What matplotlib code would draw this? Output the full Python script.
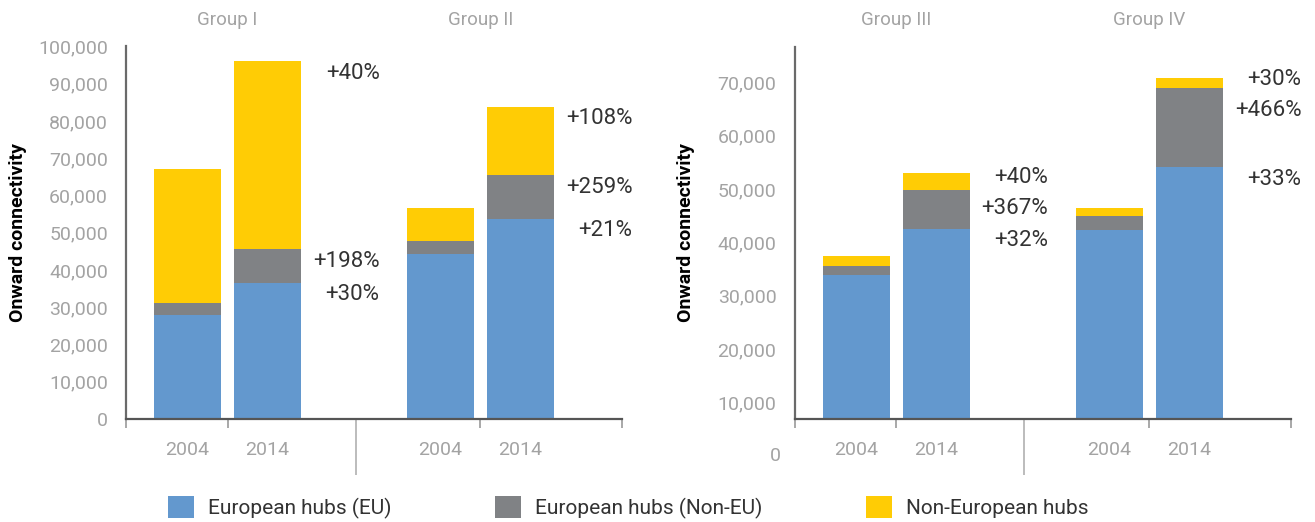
import matplotlib
matplotlib.use('Agg')
import matplotlib.pyplot as plt
from matplotlib.patches import Patch
from matplotlib.ticker import FuncFormatter

plt.rcParams['font.family'] = ['Roboto', 'DejaVu Sans']

# bars in order: Group I 2004, 2014, Group II 2004, 2014 | Group III 2004, 2014, Group IV 2004, 2014
groups = ["Group I", "Group II", "Group III", "Group IV"]
years = ["2004", "2014"]
eu_hubs = [27900, 36600, 44400, 53700, 33900, 42600, 42400, 54100]
non_eu_hubs = [3300, 9000, 3400, 11800, 1700, 7300, 2600, 14900]
non_european_hubs = [35900, 50500, 8800, 18300, 1900, 3200, 1500, 1900]

growth_non_european = ["+40%", "+108%", "+40%", "+30%"]
growth_non_eu = ["+198%", "+259%", "+367%", "+466%"]
growth_eu = ["+30%", "+21%", "+32%", "+33%"]

series_names = ["European hubs (EU)", "European hubs (Non-EU)", "Non-European hubs"]
colors = ["#6398ce", "#808285", "#ffcc05"]

TICK_GREY = "#a3a3a3"
DARK = "#333333"

fig = plt.figure(figsize=(13.15, 5.22), dpi=100)
W, H = 1315, 522
ax_left = fig.add_axes([126 / W, 103 / H, 496 / W, 372.5 / H])
ax_right = fig.add_axes([794.5 / W, 103 / H, 496.5 / W, 372.5 / H])

xpos = [0, 1, 3.16, 4.16]
bar_w = 0.84
sep = 2.1


def place_labels(ax, x, tops, texts):
    # put each label ~12px under its segment top, push apart when crowded
    ys = [ax.transData.transform((0, t))[1] - 12 for t in tops]
    gap = 31
    for _ in range(100):
        for i in range(1, len(ys)):
            d = ys[i - 1] - ys[i]
            if d < gap:
                ys[i - 1] += (gap - d) / 2
                ys[i] -= (gap - d) / 2
    inv = ax.transData.inverted()
    for y, t in zip(ys, texts):
        yd = inv.transform((0, y))[1]
        ax.text(x, yd, t, ha='right', va='center', fontsize=16, color=DARK)


def draw_panel(ax, sl, gnames, ylim, ticks):
    eu = eu_hubs[sl]
    neu = non_eu_hubs[sl]
    nonE = non_european_hubs[sl]
    b2 = [a + b for a, b in zip(eu, neu)]
    ax.bar(xpos, eu, width=bar_w, color=colors[0])
    ax.bar(xpos, neu, width=bar_w, bottom=eu, color=colors[1])
    ax.bar(xpos, nonE, width=bar_w, bottom=b2, color=colors[2])

    ax.set_xlim(-0.77, 5.43)
    ax.set_ylim(*ylim)
    ax.set_yticks(ticks)
    ax.yaxis.set_major_formatter(FuncFormatter(lambda v, p: f"{int(v):,}"))
    ax.tick_params(axis='y', length=0, pad=13, labelsize=14, labelcolor=TICK_GREY)

    ax.set_xticks([-0.77, 0.5, 3.66, 5.43])
    ax.set_xticklabels([])
    ax.set_xticks([sep], minor=True)
    ax.tick_params(axis='x', which='major', length=6.5, width=1.2, color="#9a9a9a")
    ax.tick_params(axis='x', which='minor', length=40.5, width=1.2, color="#b0b0b0")

    for s in ['top', 'right']:
        ax.spines[s].set_visible(False)
    ax.spines['left'].set_color("#6a6a6a")
    ax.spines['left'].set_linewidth(1.6)
    ax.spines['bottom'].set_color("#555555")
    ax.spines['bottom'].set_linewidth(1.6)

    for i, x in enumerate(xpos):
        ax.annotate(years[i % 2], xy=(x, 0), xycoords=('data', 'axes fraction'),
                    xytext=(0, -22), textcoords='offset points',
                    ha='center', va='center', fontsize=14, color=TICK_GREY)
    for g, name in enumerate(gnames):
        cx = (xpos[2 * g] + xpos[2 * g + 1]) / 2
        ax.annotate(name, xy=(cx, 1), xycoords=('data', 'axes fraction'),
                    xytext=(0, 19), textcoords='offset points',
                    ha='center', va='center', fontsize=13.5, color=TICK_GREY)
        j = 2 * g + 1
        lx = xpos[j] + bar_w / 2 + 0.98
        place_labels(ax, lx, [b2[j] + nonE[j], b2[j], eu[j]],
                     [growth_non_european[sl.start // 2 + g],
                      growth_non_eu[sl.start // 2 + g],
                      growth_eu[sl.start // 2 + g]])

    ax.set_ylabel("Onward connectivity", fontsize=14, fontweight='bold', color='black')
    ax.yaxis.set_label_coords(-0.2, 0.5)


draw_panel(ax_left, slice(0, 4), groups[:2], (0, 100000), range(0, 100001, 10000))
draw_panel(ax_right, slice(4, 8), groups[2:], (6900, 76750), range(10000, 70001, 10000))

# the right panel shows a "0" label below its cut axis
ax_right.annotate("0", xy=(0, 0), xycoords=('axes fraction', 'data'),
                  xytext=(-9.5, 0), textcoords='offset points', annotation_clip=False,
                  ha='right', va='center', fontsize=14, color=TICK_GREY)

handles = [Patch(facecolor=c, edgecolor='none') for c in colors]
fig.legend(handles, series_names, loc='lower left', bbox_to_anchor=(168 / W, 3 / H),
           ncol=3, frameon=False, fontsize=15, handlelength=1.25, handleheight=1.25,
           handletextpad=0.65, columnspacing=5.0, borderpad=0, borderaxespad=0,
           labelcolor=DARK)

fig.savefig("out.png", dpi=100)
